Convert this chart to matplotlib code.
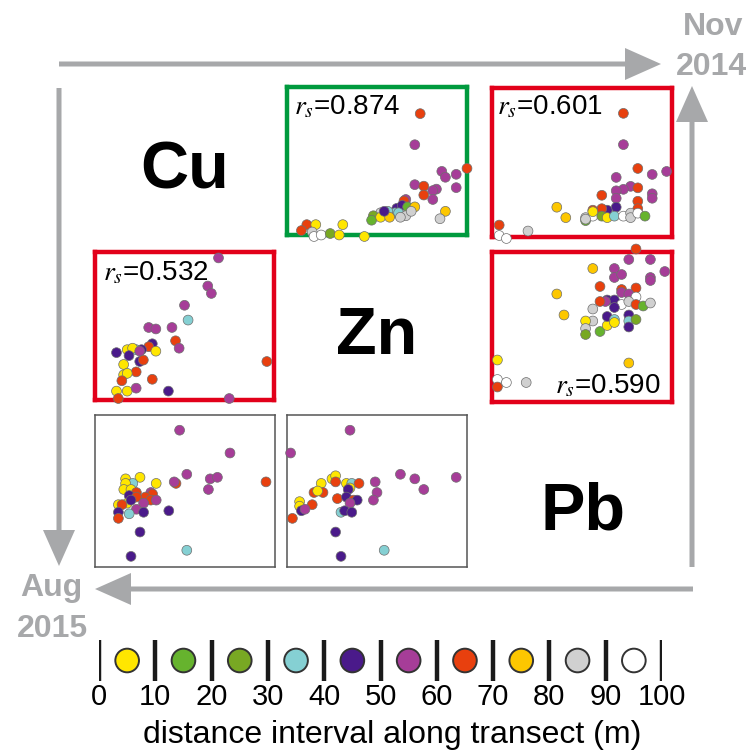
import numpy as np
import matplotlib.pyplot as plt

plt.rcParams['font.family'] = 'Liberation Sans'
plt.rcParams['mathtext.fontset'] = 'stix'

# 10 m distance intervals along the transect and their colours
interval_edges = [0, 10, 20, 30, 40, 50, 60, 70, 80, 90, 100]
interval_colors = ['#ffe600', '#66b32e', '#78a823', '#85d0d3', '#4a1a8a',
                   '#a63d98', '#e8400e', '#fdc700', '#d0d0d0', '#ffffff']

# Nov 2014 (upper triangle), values scaled 0-100 per element
cu_zn_nov_x = [74, 71, 100, 86, 88, 94, 71, 76, 76, 83, 81, 81, 94, 66, 65, 61, 64, 67, 71, 60,
               56, 52, 48, 47, 52, 57, 62, 66, 69, 88, 85, 11, 16, 8, 14, 15, 19, 24, 29, 31,
               43, 54, 63]
cu_zn_nov_y = [82, 61, 45, 43, 39, 41, 34, 33, 27, 31, 30, 24, 32, 24, 23, 18, 20, 19, 19, 15,
               16, 15, 13, 10, 12, 12, 15, 13, 16, 16, 11, 7, 7, 3, 2, -1, 0, 1, 0, 7,
               -1, 16, 12]
cu_zn_nov_c = [6, 5, 6, 5, 5, 5, 5, 6, 6, 5, 5, 5, 5, 5, 6, 4, 4, 1, 7, 3,
               3, 8, 2, 1, 0, 7, 3, 8, 8, 7, 8, 6, 0, 6, 8, 9, 9, 2, 0, 0,
               0, 4, 8]

cu_pb_nov_x = [73, 73, 81, 89, 97, 69, 77, 81, 73, 69, 61, 89, 89, 69, 81, 69, 81, 64, 61, 56,
               36, 41, 52, 52, 56, 61, 64, 68, 73, 77, 77, 81, 85, 4, 4, 8, 20, 56, 52]
cu_pb_nov_y = [83, 62, 46, 42, 44, 40, 34, 33, 32, 31, 28, 29, 26, 26, 24, 20, 19, 18, 19, 18,
               20, 13, 13, 11, 14, 14, 13, 14, 14, 16, 13, 16, 14, 8, 1, -1, 4, 17, 12]
cu_pb_nov_c = [6, 5, 6, 5, 5, 5, 5, 6, 5, 5, 6, 5, 5, 5, 6, 4, 6, 4, 6, 6,
               7, 7, 8, 1, 9, 2, 0, 3, 9, 8, 8, 9, 1, 6, 9, 9, 8, 0, 8]

zn_pb_nov_x = [80, 76, 88, 56, 68, 68, 72, 96, 88, 88, 60, 72, 80, 36, 72, 76, 64, 68, 63, 60,
               80, 72, 76, 80, 84, 88, 68, 56, 40, 56, 52, 52, 52, 60, 64, 64, 68, 68, 76, 76,
               80, 76, 3, 76, 3, 8, 3, 19]
zn_pb_nov_y = [102, 95, 95, 89, 89, 83, 85, 87, 83, 81, 77, 75, 76, 72, 73, 72, 68, 68, 67, 67,
               70, 65, 67, 65, 64, 66, 63, 62, 58, 54, 54, 49, 45, 47, 51, 57, 55, 53, 58, 54,
               55, 50, 28, 26, 15, 13, 10, 13]
zn_pb_nov_c = [6, 5, 5, 7, 5, 5, 5, 5, 5, 5, 6, 6, 6, 7, 5, 5, 4, 4, 5, 6,
               9, 9, 8, 6, 1, 8, 4, 8, 7, 8, 0, 8, 2, 1, 0, 4, 3, 0, 4, 3,
               2, 4, 0, 7, 9, 9, 6, 8]

# Aug 2015 (lower triangle)
zn_cu_aug_x = [69, 63, 65, 50, 52, 30, 34, 43, 45, 47, 32, 30, 26, 23, 18, 21, 12, 19, 25, 27,
               34, 16, 23, 16, 18, 15, 32, 12, 18, 23, 41, 13, 75, 96, 25]
zn_cu_aug_y = [96, 77, 72, 64, 54, 49, 48, 49, 40, 35, 38, 36, 34, 34, 34, 35, 32, 30, 26, 27,
               33, 24, 19, 17, 18, 13, 14, 6, 6, 8, 6, 1, 1, 26, 33]
zn_cu_aug_c = [5, 5, 5, 5, 3, 5, 5, 5, 6, 5, 4, 6, 4, 3, 0, 0, 4, 4, 4, 6,
               0, 0, 6, 0, 0, 6, 6, 0, 0, 5, 4, 6, 5, 6, 5]

pb_cu_aug_x = [47, 75, 51, 64, 68, 95, 63, 45, 44, 17, 25, 34, 21, 17, 16, 20, 23, 19, 31, 32,
               28, 23, 31, 34, 27, 13, 18, 15, 23, 27, 13, 19, 13, 41, 25, 20, 51, 20]
pb_cu_aug_y = [90, 75, 61, 58, 59, 56, 51, 55, 56, 58, 59, 55, 55, 55, 51, 51, 49, 47, 49, 48,
               46, 46, 44, 44, 42, 41, 42, 41, 38, 36, 36, 35, 32, 37, 23, 7, 11, 44]
pb_cu_aug_c = [5, 5, 5, 5, 5, 6, 5, 6, 5, 0, 0, 0, 3, 0, 0, 0, 6, 4, 5, 6,
               6, 6, 6, 5, 5, 0, 0, 6, 5, 4, 4, 3, 6, 4, 4, 4, 3, 4]

pb_zn_aug_x = [35, 2, 63, 71, 94, 76, 49, 50, 48, 25, 27, 27, 19, 20, 15, 17, 33, 36, 40, 35,
               34, 28, 33, 37, 39, 35, 7, 7, 14, 8, 10, 30, 32, 36, 3, 27, 30, 54]
pb_zn_aug_y = [90, 75, 61, 58, 59, 51, 56, 49, 44, 58, 60, 56, 55, 49, 49, 50, 55, 55, 55, 52,
               51, 45, 46, 44, 44, 42, 43, 40, 41, 37, 38, 36, 37, 36, 32, 23, 7, 11]
pb_zn_aug_c = [5, 5, 5, 5, 5, 5, 5, 5, 5, 0, 0, 6, 0, 6, 6, 0, 0, 3, 6, 0,
               4, 6, 4, 6, 4, 5, 0, 0, 6, 4, 5, 3, 4, 4, 6, 4, 4, 3]

rs_cu_zn = 0.874
rs_cu_pb = 0.601
rs_zn_cu = 0.532
rs_zn_pb = 0.590

W = 753
fig = plt.figure(figsize=(7.53, 7.53), dpi=100)


def box(left, top, right, bottom):
    # pixel box -> figure fraction rect
    return [left / W, 1 - bottom / W, (right - left) / W, (bottom - top) / W]


def px(x, y):
    return x / W, 1 - y / W


# background layer: time arrows and element names
bg = fig.add_axes([0, 0, 1, 1])
bg.set_xlim(0, W)
bg.set_ylim(W, 0)
bg.axis('off')

grey = '#a7a8aa'
arrow_kw = dict(width=5, head_width=32, head_length=36, length_includes_head=True,
                fc=grey, ec='none')
bg.arrow(59, 64, 602, 0, **arrow_kw)
bg.arrow(692, 567, 0, -481, **arrow_kw)
bg.arrow(693, 589, -598, 0, **arrow_kw)
bg.arrow(59, 88, 0, 478, **arrow_kw)

bg.text(713, 35, 'Nov', color=grey, fontsize=23, fontweight='bold', ha='center', va='baseline')
bg.text(711, 75, '2014', color=grey, fontsize=23, fontweight='bold', ha='center', va='baseline')
bg.text(51, 596, 'Aug', color=grey, fontsize=23, fontweight='bold', ha='center', va='baseline')
bg.text(52, 637, '2015', color=grey, fontsize=23, fontweight='bold', ha='center', va='baseline')

bg.text(185, 188, 'Cu', fontsize=48, fontweight='bold', ha='center', va='baseline')
bg.text(377, 354, 'Zn', fontsize=48, fontweight='bold', ha='center', va='baseline')
bg.text(583, 529, 'Pb', fontsize=48, fontweight='bold', ha='center', va='baseline')

green = '#009a3e'
red = '#e2001a'
dark = '#555555'
panels = [
    (box(287, 87, 467, 235), cu_zn_nov_x, cu_zn_nov_y, cu_zn_nov_c, green, 3.2),
    (box(492, 88, 672, 237), cu_pb_nov_x, cu_pb_nov_y, cu_pb_nov_c, red, 3.2),
    (box(95, 252, 274, 400), zn_cu_aug_x, zn_cu_aug_y, zn_cu_aug_c, red, 3.2),
    (box(492, 252, 672, 402), zn_pb_nov_x, zn_pb_nov_y, zn_pb_nov_c, red, 3.2),
    (box(95, 415, 275, 567), pb_cu_aug_x, pb_cu_aug_y, pb_cu_aug_c, dark, 1.1),
    (box(287, 415, 467, 567), pb_zn_aug_x, pb_zn_aug_y, pb_zn_aug_c, dark, 1.1),
]

for rect, x, y, c, edge, lw in panels:
    ax = fig.add_axes(rect)
    ax.scatter(x, y, c=[interval_colors[i] for i in c], s=50, edgecolors='#6e6e6e',
               linewidths=0.5, clip_on=False, zorder=3)
    ax.set_xlim(0, 100)
    ax.set_ylim(0, 100)
    ax.set_xticks([])
    ax.set_yticks([])
    for sp in ax.spines.values():
        sp.set_color(edge)
        sp.set_linewidth(lw)

# Spearman coefficients
fig.text(*px(294, 114), r'$r_s$=%.3f' % rs_cu_zn, fontsize=20, ha='left', va='baseline')
fig.text(*px(497, 114), r'$r_s$=%.3f' % rs_cu_pb, fontsize=20, ha='left', va='baseline')
fig.text(*px(103, 280), r'$r_s$=%.3f' % rs_zn_cu, fontsize=20, ha='left', va='baseline')
fig.text(*px(555, 393), r'$r_s$=%.3f' % rs_zn_pb, fontsize=20, ha='left', va='baseline')

# colour key for the distance intervals
leg = fig.add_axes(box(99, 638, 662, 683))
leg.set_xlim(0, 100)
leg.set_ylim(0, 1)
leg.vlines(interval_edges, 0.05, 0.95, color='#1a1a1a', lw=3.2)
mids = [(a + b) / 2 for a, b in zip(interval_edges[:-1], interval_edges[1:])]
leg.scatter(mids, [0.5] * len(mids), s=290, c=interval_colors, edgecolors='#333333',
            linewidths=1.4, clip_on=False, zorder=3)
leg.set_xticks(interval_edges)
leg.set_xticklabels([str(e) for e in interval_edges])
leg.tick_params(axis='x', length=0, pad=0, labelsize=21)
leg.set_yticks([])
for sp in leg.spines.values():
    sp.set_visible(False)
leg.text(0.52, -1.15, 'distance interval along transect (m)', fontsize=23,
         ha='center', va='center', transform=leg.transAxes)

plt.savefig('out.png', dpi=100)
